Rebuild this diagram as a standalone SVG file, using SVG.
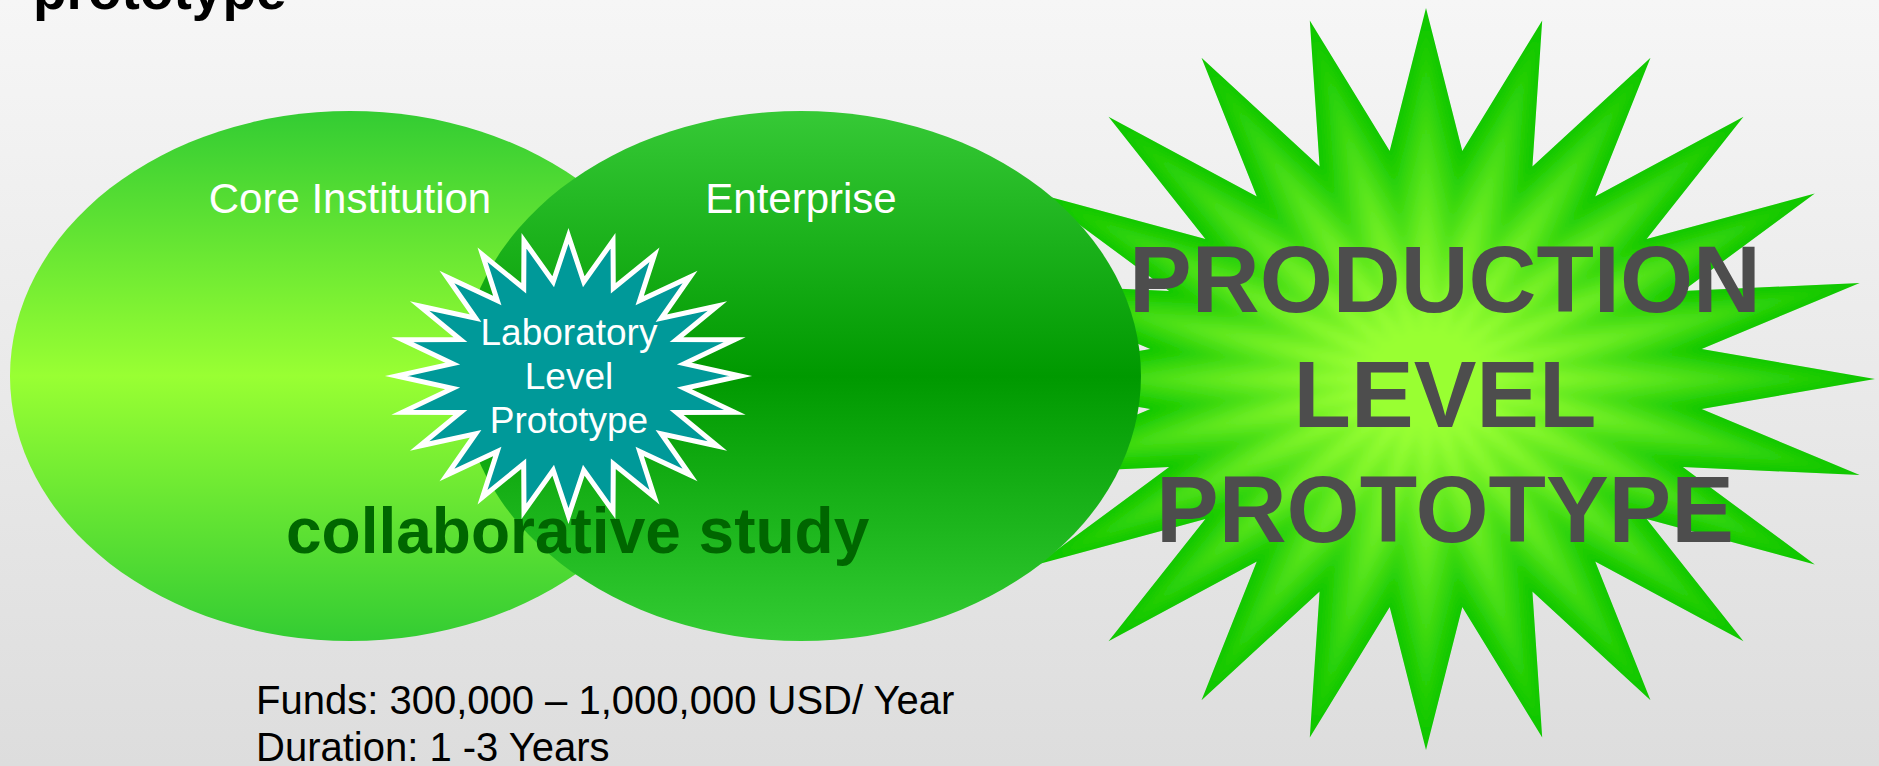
<svg xmlns="http://www.w3.org/2000/svg" xmlns:xlink="http://www.w3.org/1999/xlink" width="1879" height="766" viewBox="0 0 1879 766">
  <style>
    text { font-family: "Liberation Sans", Arial, sans-serif; }
    .title { font-size: 55px; font-weight: bold; fill: #000000; }
    .label { font-size: 42px; fill: #ffffff; text-anchor: middle; }
    .lab { font-size: 37px; fill: #ffffff; text-anchor: middle; }
    .collab { font-size: 64px; font-weight: bold; fill: #006600; }
    .big { font-size: 94px; font-weight: bold; fill: #4d4d4d; text-anchor: middle; }
    .info { font-size: 40px; fill: #000000; }
  </style>
  <defs>
    <linearGradient id="bgGrad" x1="0" y1="0" x2="0" y2="1">
      <stop offset="0" stop-color="#f6f6f6"/>
      <stop offset="1" stop-color="#dddddd"/>
    </linearGradient>
    <linearGradient id="coreGrad" x1="0" y1="0" x2="0" y2="1">
      <stop offset="0" stop-color="#33cc33"/>
      <stop offset="0.5" stop-color="#99ff33"/>
      <stop offset="1" stop-color="#33cc33"/>
    </linearGradient>
    <linearGradient id="entGrad" x1="0" y1="0" x2="0" y2="1">
      <stop offset="0" stop-color="#36c936"/>
      <stop offset="0.5" stop-color="#009900"/>
      <stop offset="1" stop-color="#33cc33"/>
    </linearGradient>
    <path id="bigStar" d="M0,-371 L36.3,-228 L116.2,-358.4 L106.4,-212.5 L224.5,-321.3 L169.2,-182.5 L317.5,-262.3 L220.6,-140 L388.8,-185.5 L256.8,-88 L433.7,-96 L275.6,-30 L449,0 L275.6,30 L433.7,96 L256.8,88 L388.8,185.5 L220.6,140 L317.5,262.3 L169.2,182.5 L224.5,321.3 L106.4,212.5 L116.2,358.4 L36.3,228 L0,371 L-36.3,228 L-116.2,358.4 L-106.4,212.5 L-224.5,321.3 L-169.2,182.5 L-317.5,262.3 L-220.6,140 L-388.8,185.5 L-256.8,88 L-433.7,96 L-275.6,30 L-449,0 L-275.6,-30 L-433.7,-96 L-256.8,-88 L-388.8,-185.5 L-220.6,-140 L-317.5,-262.3 L-169.2,-182.5 L-224.5,-321.3 L-106.4,-212.5 L-116.2,-358.4 L-36.3,-228 Z"/>
    <path id="smallStar" d="M0,-140 L15.3,-94.2 L44.5,-135.2 L44.8,-87.8 L86,-121.2 L71.2,-75.4 L121.6,-99 L92.8,-57.8 L149,-70 L108.1,-36.4 L166.1,-36.2 L116,-12.4 L172,0 L116,12.4 L166.1,36.2 L108.1,36.4 L149,70 L92.8,57.8 L121.6,99 L71.2,75.4 L86,121.2 L44.8,87.8 L44.5,135.2 L15.3,94.2 L0,140 L-15.3,94.2 L-44.5,135.2 L-44.8,87.8 L-86,121.2 L-71.2,75.4 L-121.6,99 L-92.8,57.8 L-149,70 L-108.1,36.4 L-166.1,36.2 L-116,12.4 L-172,0 L-116,-12.4 L-166.1,-36.2 L-108.1,-36.4 L-149,-70 L-92.8,-57.8 L-121.6,-99 L-71.2,-75.4 L-86,-121.2 L-44.8,-87.8 L-44.5,-135.2 L-15.3,-94.2 Z"/>
    <clipPath id="bigClip">
      <use xlink:href="#bigStar" href="#bigStar" transform="translate(1426,379)"/>
    </clipPath>
    <filter id="soft" x="-10%" y="-10%" width="120%" height="120%">
      <feGaussianBlur stdDeviation="4"/>
    </filter>
  </defs>

  <rect id="background" x="0" y="0" width="1879" height="766" fill="url(#bgGrad)"/>

  <g id="title">
    <text class="title" x="33" y="9">prototype</text>
  </g>

  <g id="production-level-prototype">
    <use xlink:href="#bigStar" href="#bigStar" transform="translate(1426,379)" fill="#11c800"/>
    <g clip-path="url(#bigClip)">
      <g filter="url(#soft)">
        <use href="#bigStar" transform="translate(1426,379) scale(0.95)" fill="#1acb03"/>
        <use href="#bigStar" transform="translate(1426,379) scale(0.90)" fill="#22cf06"/>
        <use href="#bigStar" transform="translate(1426,379) scale(0.85)" fill="#2bd20a"/>
        <use href="#bigStar" transform="translate(1426,379) scale(0.80)" fill="#33d60d"/>
        <use href="#bigStar" transform="translate(1426,379) scale(0.75)" fill="#3cd910"/>
        <use href="#bigStar" transform="translate(1426,379) scale(0.70)" fill="#44dd13"/>
        <use href="#bigStar" transform="translate(1426,379) scale(0.65)" fill="#4de016"/>
        <use href="#bigStar" transform="translate(1426,379) scale(0.60)" fill="#55e41a"/>
        <use href="#bigStar" transform="translate(1426,379) scale(0.55)" fill="#5ee71d"/>
        <use href="#bigStar" transform="translate(1426,379) scale(0.50)" fill="#66ea20"/>
        <use href="#bigStar" transform="translate(1426,379) scale(0.45)" fill="#6fee23"/>
        <use href="#bigStar" transform="translate(1426,379) scale(0.40)" fill="#77f126"/>
        <use href="#bigStar" transform="translate(1426,379) scale(0.35)" fill="#80f529"/>
        <use href="#bigStar" transform="translate(1426,379) scale(0.30)" fill="#88f82d"/>
        <use href="#bigStar" transform="translate(1426,379) scale(0.25)" fill="#91fc30"/>
        <use href="#bigStar" transform="translate(1426,379) scale(0.20)" fill="#99ff33"/>
      </g>
    </g>
  </g>

  <g id="core-institution">
    <ellipse cx="350" cy="376" rx="340" ry="265" fill="url(#coreGrad)"/>
  </g>

  <g id="enterprise">
    <ellipse cx="801" cy="376" rx="340" ry="265" fill="url(#entGrad)"/>
  </g>

  <g id="ellipse-labels">
    <text class="label" x="350" y="213">Core Institution</text>
    <text class="label" x="801" y="213">Enterprise</text>
  </g>

  <g id="laboratory-level-prototype">
    <use href="#smallStar" transform="translate(568.5,376)" fill="#009999" stroke="#ffffff" stroke-width="5" stroke-miterlimit="12"/>
    <text class="lab" x="569" y="345">Laboratory</text>
    <text class="lab" x="569" y="389">Level</text>
    <text class="lab" x="569" y="433">Prototype</text>
  </g>

  <g id="collaborative-study">
    <text class="collab" x="286" y="553">collaborative study</text>
  </g>

  <g id="production-text">
    <text class="big" x="1445" y="312">PRODUCTION</text>
    <text class="big" x="1445" y="427">LEVEL</text>
    <text class="big" x="1445" y="542">PROTOTYPE</text>
  </g>

  <g id="funding-info">
    <text class="info" x="256" y="714">Funds: 300,000 – 1,000,000 USD/ Year</text>
    <text class="info" x="256" y="761">Duration: 1 -3 Years</text>
  </g>

  <g id="connectors"/>
</svg>
